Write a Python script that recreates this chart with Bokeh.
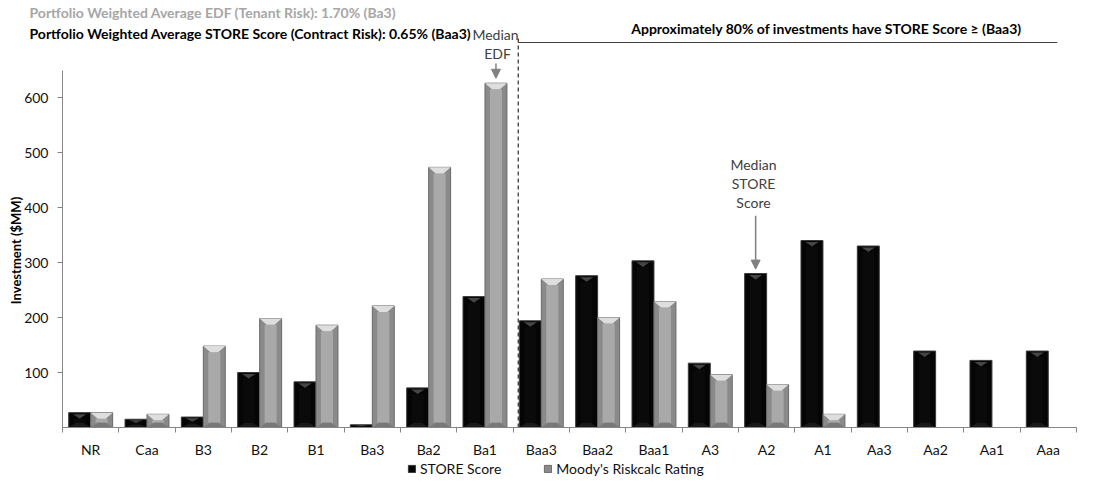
import numpy as np
from bokeh.plotting import figure
from bokeh.models import (Range1d, FixedTicker, CustomJSTickFormatter, Label,
                          Arrow, NormalHead, Legend, LegendItem, ColumnDataSource)
from bokeh.embed import file_html
from bokeh.resources import INLINE

# ---------------- data ----------------
categories = ["NR", "Caa", "B3", "B2", "B1", "Ba3", "Ba2", "Ba1", "Baa3", "Baa2",
              "Baa1", "A3", "A2", "A1", "Aa3", "Aa2", "Aa1", "Aaa"]
store_score = [27, 15, 19, 100, 83, 5, 72, 238, 194, 276, 303, 117, 280, 340, 330, 139, 122, 139]
moodys_riskcalc = [27, 24, 148, 198, 186, 221, 473, 626, 270, 200, 229, 96, 78, 24, 0, 0, 0, 0]
y_ticks = [100, 200, 300, 400, 500, 600]
y_axis_max = 650
series_names = ["STORE Score", "Moody's Riskcalc Rating"]
title_edf = "Portfolio Weighted Average EDF (Tenant Risk): 1.70% (Ba3)"
title_store = "Portfolio Weighted Average STORE Score (Contract Risk): 0.65% (Baa3)"
note_80 = "Approximately 80% of investments have STORE Score \u2265 (Baa3)"

FONT = "Lato"
W, H = 1080, 480
X0, Y0 = 62.0, 427.0           # pixel position of the data origin
PX_X, PX_Y = 56.33, 0.55       # pixels per category / per $MM
n = len(categories)
centers = np.arange(n) + 0.5
bw = 0.39

p = figure(width=W, height=H, output_backend="svg", toolbar_location=None,
           x_range=Range1d(-X0 / PX_X, (W - X0) / PX_X),
           y_range=Range1d((Y0 - H) / PX_Y, Y0 / PX_Y),
           min_border=0)
p.outline_line_color = None
p.grid.visible = False
p.background_fill_color = "white"


def bevel_bars(xc, tops, outer, inner, top_col, bot_col, edge, dark):
    xc = np.asarray(xc, float)
    tops = np.asarray(tops, float)
    keep = tops > 0
    xc, tops = xc[keep], tops[keep]
    src = ColumnDataSource(dict(x=xc, top=tops))
    r = p.vbar(x="x", top="top", bottom=0, width=bw, source=src,
               fill_color=outer, line_color=edge, line_width=1)
    d = np.minimum(11.0, tops * 0.45)
    p.vbar(x=xc, top=tops - d, bottom=d * 0.8, width=bw * 0.55,
           fill_color=inner, line_color=None)
    if dark:
        xs_t = [[x - bw * 0.3, x + bw * 0.3, x] for x in xc]
        ys_t = [[t - dd * 0.25, t - dd * 0.25, t - dd] for t, dd in zip(tops, d)]
    else:
        xs_t = [[x - bw / 2, x + bw / 2, x + bw * 0.18, x - bw * 0.18] for x in xc]
        ys_t = [[t, t, t - dd, t - dd] for t, dd in zip(tops, d)]
    p.patches(xs_t, ys_t, fill_color=top_col, line_color=None)
    xs_b = [[x - bw / 2, x + bw / 2, x + bw * 0.18, x - bw * 0.18] for x in xc]
    ys_b = [[0, 0, dd * 0.8, dd * 0.8] for dd in d]
    p.patches(xs_b, ys_b, fill_color=bot_col, line_color=None)
    return r


r_store = bevel_bars(centers - bw / 2, store_score, "#050505", "#0a0a0a", "#454545",
                     "#1a1a1a", "#3a3a3a", True)
r_moody = bevel_bars(centers + bw / 2, moodys_riskcalc, "#8a8a8a", "#a9a9a9", "#dedede",
                     "#787878", "#6a6a6a", False)

# ---------------- axes (drawn at the data origin) ----------------
xa = p.xaxis[0]
xa.fixed_location = 0
xa.bounds = (0, n)
xa.ticker = FixedTicker(ticks=list(centers), minor_ticks=list(range(n + 1)))
xa.formatter = CustomJSTickFormatter(args=dict(cats=categories),
                                     code="return cats[Math.round(tick - 0.5)];")
xa.major_tick_out = 0
xa.major_tick_in = 0
xa.minor_tick_out = 5
xa.minor_tick_in = 0
xa.minor_tick_line_color = "#868686"
xa.axis_line_color = "#868686"
xa.major_label_standoff = 8
xa.major_label_text_font = FONT
xa.major_label_text_font_size = "14px"
xa.major_label_text_color = "#111111"

ya = p.yaxis[0]
ya.fixed_location = 0
ya.ticker = FixedTicker(ticks=y_ticks)
ya.bounds = (0, y_axis_max)
ya.axis_line_color = "#868686"
ya.major_tick_line_color = "#868686"
ya.major_tick_out = 5
ya.major_tick_in = 0
ya.minor_tick_line_color = None
ya.major_label_standoff = 9
ya.major_label_text_font = FONT
ya.major_label_text_font_size = "14px"
ya.major_label_text_color = "#111111"


# ---------------- annotations ----------------
def lbl(text, sx, sy, color="#111111", bold=False, size="14px", align="left", angle=0.0):
    p.add_layout(Label(x=sx, y=H - sy, x_units="screen", y_units="screen",
                       text=text, text_font=FONT, text_font_size=size,
                       text_font_style="bold" if bold else "normal",
                       text_color=color, text_align=align, text_baseline="middle",
                       angle=angle))


lbl(title_edf, 29, 12, color="#a6a6a6", bold=True)
lbl(title_store, 29, 33, color="#000000", bold=True)
lbl(note_80, 826, 28, color="#000000", bold=True, align="center")
lbl("Investment ($MM)", 15, 250, color="#000000", bold=True, size="13px",
    align="center", angle=np.pi / 2)

lbl("Median", 495, 34, color="#404040", align="center")
lbl("EDF", 497, 53, color="#404040", align="center")
lbl("Median", 753, 164, color="#404040", align="center")
lbl("STORE", 753, 183, color="#404040", align="center")
lbl("Score", 753, 202, color="#404040", align="center")

x_div = 8.09
p.segment(x0=[x_div], y0=[0], x1=[x_div], y1=[(Y0 - 38) / PX_Y], line_color="#000000",
          line_width=1, line_dash="4 3")
p.segment(x0=[x_div], y0=[(Y0 - 42) / PX_Y], x1=[17.66], y1=[(Y0 - 42) / PX_Y],
          line_color="#404040", line_width=1.2)

i_edf = categories.index("Ba1")
x_edf = centers[i_edf] + bw / 2
p.add_layout(Arrow(x_start=x_edf, y_start=662, x_end=x_edf, y_end=moodys_riskcalc[i_edf] + 9,
                   line_color="#808080", line_width=1.5,
                   end=NormalHead(size=9, fill_color="#808080", line_color="#808080")))
i_st = categories.index("A2")
x_st = centers[i_st] - bw / 2
p.add_layout(Arrow(x_start=x_st, y_start=385, x_end=x_st, y_end=store_score[i_st] + 8,
                   line_color="#808080", line_width=1.5,
                   end=NormalHead(size=9, fill_color="#808080", line_color="#808080")))

legend = Legend(items=[LegendItem(label=series_names[0], renderers=[r_store]),
                       LegendItem(label=series_names[1], renderers=[r_moody])],
                location=(407, 3), orientation="horizontal")
legend.background_fill_alpha = 0
legend.border_line_color = None
legend.padding = 0
legend.margin = 0
legend.spacing = 42
legend.glyph_width = 9
legend.glyph_height = 9
legend.label_standoff = 4
legend.label_height = 13
legend.label_text_font = FONT
legend.label_text_font_size = "14px"
legend.label_text_color = "#111111"
p.add_layout(legend, "center")

open("out.html", "w").write(file_html(p, INLINE))
